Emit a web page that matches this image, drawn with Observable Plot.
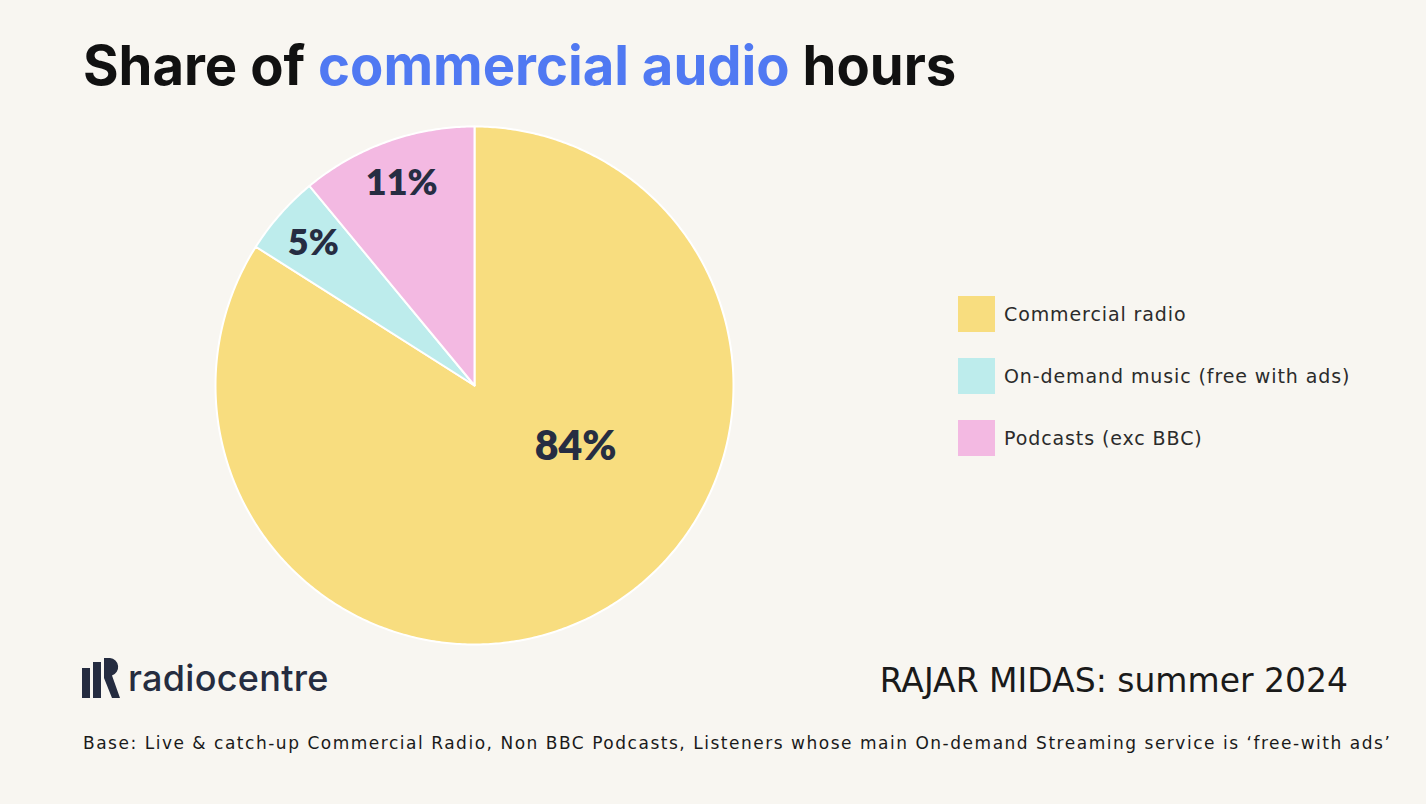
<!DOCTYPE html>
<html>
<head>
<meta charset="utf-8">
<script src="https://cdn.jsdelivr.net/npm/d3@7"></script>
<script src="https://cdn.jsdelivr.net/npm/@observablehq/plot@0.6"></script>
<style>
  html, body { margin: 0; padding: 0; background: #f8f6f1; width: 1426px; height: 804px; overflow: hidden; }
  #title { position: absolute; left: 83px; top: 38px; line-height: 1; font-family: Inter, sans-serif; font-weight: 700; font-size: 54.4px; color: #111; letter-spacing: 0px; white-space: nowrap; }
  #title .hl { color: #5079f2; }
  #chart { position: absolute; left: 204px; top: 115px; }
  #legend { position: absolute; left: 958px; top: 296px; font-family: "DejaVu Sans", sans-serif; font-size: 19px; letter-spacing: 0.9px; color: #2b2b2b; }
  .item { display: flex; align-items: center; height: 36px; margin-bottom: 26px; }
  .sw { width: 37px; height: 36px; margin-right: 9px; }
  #logo { position: absolute; left: 82px; top: 656px; display: flex; align-items: center; font-family: Inter, sans-serif; font-size: 36px; color: #252c40; font-weight: 500; letter-spacing: 0.3px; }
  #source { position: absolute; right: 78px; top: 664px; line-height: 1; font-family: "DejaVu Sans", sans-serif; font-size: 33px; color: #1a1a1a; white-space: nowrap; }
  #note { position: absolute; left: 83px; top: 735px; line-height: 1; font-family: "DejaVu Sans", sans-serif; font-size: 17px; letter-spacing: 1.52px; color: #1a1a1a; white-space: nowrap; }
</style>
</head>
<body>
<div id="title">Share of <span class="hl">commercial audio</span> hours</div>
<div id="chart"></div>
<div id="legend"></div>
<div id="logo">
  <svg width="40" height="40" viewBox="0 0 40 40" style="margin-right:6px">
    <rect x="0" y="10" width="8" height="30" fill="#252c40"/>
    <rect x="11" y="4" width="8" height="36" fill="#252c40"/>
    <path d="M22 0 h6 a9 9 0 0 1 2 17.5 L38 40 h-8 L22 20 Z" fill="#252c40"/>
  </svg>
  <span>radiocentre</span>
</div>
<div id="source">RAJAR MIDAS: summer 2024</div>
<div id="note">Base: Live &amp; catch-up Commercial Radio, Non BBC Podcasts, Listeners whose main On-demand Streaming service is ‘free-with ads’</div>
<script>
const categories = ["Commercial radio", "On-demand music (free with ads)", "Podcasts (exc BBC)"];
const shares = [84, 5, 11];
const shareLabels = ["84%", "5%", "11%"];
const colors = ["#f8dd7f", "#bdecec", "#f3b9e2"];

const rows = categories.map((name, i) => ({name, value: shares[i], label: shareLabels[i]}));
const arcs = d3.pie().sort(null).value(d => d.value)(rows);

// polygon outline of each slice (unit radius), drawn via Plot's x/y scales
const outline = [];
for (const a of arcs) {
  const name = a.data.name;
  outline.push({name, x: 0, y: 0});
  const n = Math.max(4, Math.ceil((a.endAngle - a.startAngle) / 0.01));
  for (let k = 0; k <= n; k++) {
    const t = a.startAngle + (a.endAngle - a.startAngle) * k / n;
    outline.push({name, x: Math.sin(t), y: Math.cos(t)});
  }
  outline.push({name, x: 0, y: 0});
}
const labelPts = arcs.map(a => {
  const m = (a.startAngle + a.endAngle) / 2;
  const big = a.data.value > 50;
  const r = big ? 0.45 : 0.83;
  return {name: a.data.name, label: a.data.label, big, x: r * Math.sin(m), y: r * Math.cos(m)};
});

const chart = Plot.plot({
  width: 540,
  height: 540,
  margin: 11,
  x: {domain: [-1, 1], axis: null},
  y: {domain: [-1, 1], axis: null},
  color: {domain: categories, range: colors},
  style: {background: "transparent", overflow: "visible"},
  marks: [
    Plot.line(outline, {x: "x", y: "y", z: "name", fill: "name", stroke: "white", strokeWidth: 2, strokeLinejoin: "round", curve: "linear"}),
    Plot.text(labelPts.filter(d => !d.big), {x: "x", y: "y", text: "label", fill: "#262d42", fontSize: 36, fontWeight: 800, fontFamily: "Lato, sans-serif"}),
    Plot.text(labelPts.filter(d => d.big), {x: "x", y: "y", text: "label", dx: 45, dy: -41, fill: "#262d42", fontSize: 41, fontWeight: 800, fontFamily: "Lato, sans-serif"})
  ]
});
document.getElementById("chart").append(chart);

const legend = document.getElementById("legend");
categories.forEach((c, i) => {
  const item = document.createElement("div");
  item.className = "item";
  item.innerHTML = `<div class="sw" style="background:${colors[i]}"></div><span>${c}</span>`;
  legend.append(item);
});
</script>
</body>
</html>
